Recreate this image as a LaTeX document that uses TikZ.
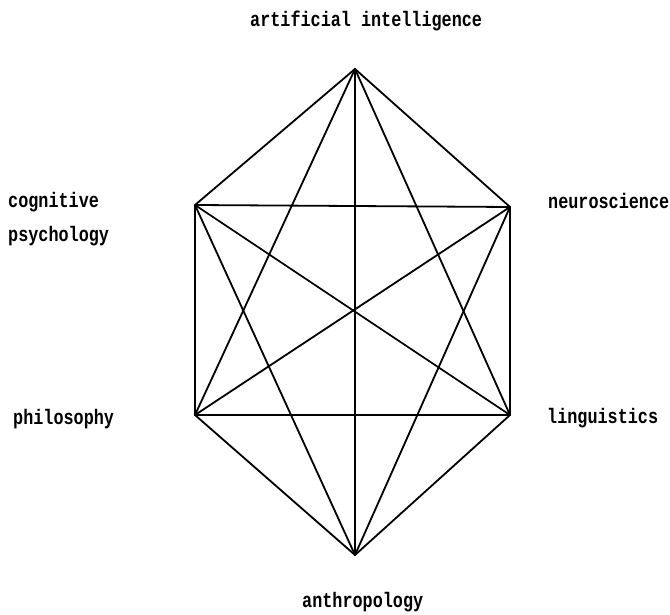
\documentclass[tikz,border=0pt]{standalone}
\usepackage{fontspec}
\setmonofont[FakeStretch=0.8]{Liberation Mono}
\usetikzlibrary{positioning}
\tikzset{field/.style={font=\ttfamily\bfseries\fontsize{21}{35}\selectfont,inner sep=0pt,anchor=base west,align=left},
 link/.style={line width=1.8pt,black,line cap=round}, axis/.style={link,line width=1.3pt}}
\begin{document}
\begin{tikzpicture}[x=1pt,y=-1pt]
\useasboundingbox(0,0)rectangle(670,615);
% corners of the hexagon
\coordinate(ai)at(355,69);\coordinate(cp)at(195,205);\coordinate(ns)at(510,207);
\coordinate(ph)at(195,415);\coordinate(li)at(510,415);\coordinate(an)at(355,555);
\node[field](lai)at(250,27){artificial intelligence};
\node[field](lcp)at(8,242){cognitive\\psychology};\node[field](lns)at(548,208){neuroscience};
\node[field](lph)at(13,424){philosophy};\node[field](lli)at(547,423){linguistics};
\node[field](lan)at(302,607){anthropology};
% every pair is joined
\foreach \a/\b in {ai/cp,ai/ns,ai/ph,ai/li,cp/ns,cp/ph,cp/li,cp/an,ns/ph,ns/li,ns/an,ph/li,ph/an,li/an}
 \draw[link](\a)--(\b);
\draw[axis](ai)--(an);
\end{tikzpicture}
\end{document}
